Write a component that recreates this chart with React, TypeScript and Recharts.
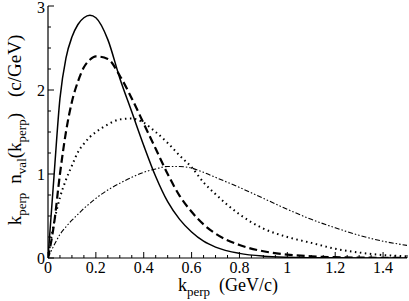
import React from 'react';
import { LineChart, Line, XAxis, YAxis } from 'recharts';

// k_perp grid (GeV/c) and the four curves
const kPerp = [0, 0.025, 0.05, 0.075, 0.1, 0.125, 0.15, 0.175, 0.2, 0.25, 0.3, 0.35, 0.4, 0.45, 0.5, 0.55, 0.6, 0.65, 0.7, 0.8, 0.9, 1.0, 1.1, 1.2, 1.3, 1.4, 1.5];
const solidCurve = [0, 0.97, 1.9, 2.38, 2.63, 2.78, 2.86, 2.89, 2.86, 2.6, 2.14, 1.74, 1.34, 0.97, 0.67, 0.46, 0.31, 0.2, 0.13, 0.055, 0.022, 0.009, 0.004, 0.002, 0.001, 0, 0];
const dashedCurve = [0, 0.4, 1.0, 1.5, 1.86, 2.1, 2.27, 2.36, 2.4, 2.37, 2.17, 1.9, 1.6, 1.3, 1.0, 0.74, 0.55, 0.4, 0.29, 0.155, 0.08, 0.04, 0.02, 0.01, 0.005, 0.002, 0];
const dottedCurve = [0, 0.42, 0.72, 0.93, 1.1, 1.26, 1.36, 1.44, 1.5, 1.59, 1.65, 1.66, 1.61, 1.5, 1.37, 1.22, 1.08, 0.9, 0.76, 0.52, 0.35, 0.25, 0.18, 0.11, 0.065, 0.035, 0.02];
const dashDotCurve = [0, 0.15, 0.28, 0.37, 0.45, 0.52, 0.59, 0.65, 0.71, 0.81, 0.89, 0.96, 1.02, 1.06, 1.09, 1.09, 1.07, 1.02, 0.96, 0.84, 0.71, 0.58, 0.46, 0.36, 0.27, 0.2, 0.15];

const xTicks = [0, 0.05, 0.1, 0.15, 0.2, 0.25, 0.3, 0.35, 0.4, 0.45, 0.5, 0.55, 0.6, 0.65, 0.7, 0.75, 0.8, 0.85, 0.9, 0.95, 1.0, 1.05, 1.1, 1.15, 1.2, 1.25, 1.3, 1.35, 1.4, 1.45, 1.5];
const yTicks = [0, 0.25, 0.5, 0.75, 1, 1.25, 1.5, 1.75, 2, 2.25, 2.5, 2.75, 3];

const data = kPerp.map((k, i) => ({
  k,
  solid: solidCurve[i],
  dashed: dashedCurve[i],
  dotted: dottedCurve[i],
  dashDot: dashDotCurve[i],
}));

const FONT = 'Times New Roman';
const MAJOR = 6;
const MINOR = 3;

const isMultiple = (v: number, step: number) => Math.abs(v / step - Math.round(v / step)) < 1e-6;
const fmt = (v: number) => String(Number(v.toFixed(1)));

// ticks point into the plot; only the bottom and left ones carry labels
const makeTick = (side: 'bottom' | 'top' | 'left' | 'right') => (props: any) => {
  const { x, y, payload } = props;
  const v = payload.value as number;
  const major = side === 'bottom' || side === 'top' ? isMultiple(v, 0.2) : isMultiple(v, 1);
  const len = major ? MAJOR : MINOR;
  if (side === 'bottom') {
    return (
      <g>
        <line x1={x} y1={y} x2={x} y2={y - len} stroke="#000" strokeWidth={1} />
        {major && v < 1.5 && (
          <text x={x} y={y + 15} textAnchor="middle" fontFamily={FONT} fontSize={16} fill="#000">{fmt(v)}</text>
        )}
      </g>
    );
  }
  if (side === 'top') {
    return <line x1={x} y1={y} x2={x} y2={y + len} stroke="#000" strokeWidth={1} />;
  }
  if (side === 'left') {
    return (
      <g>
        <line x1={x} y1={y} x2={x + len} y2={y} stroke="#000" strokeWidth={1} />
        {major && (
          <text x={x - 3} y={Math.max(y + 6, 13)} textAnchor="end" fontFamily={FONT} fontSize={16} fill="#000">{fmt(v)}</text>
        )}
      </g>
    );
  }
  return <line x1={x} y1={y} x2={x - len} y2={y} stroke="#000" strokeWidth={1} />;
};

const XTitle = () => (
  <text x={178} y={291} fontFamily={FONT} fontSize={18} fill="#000">
    k<tspan dy={5} fontSize={13}>perp</tspan>
    <tspan dy={-5} dx={9}>(GeV/c)</tspan>
  </text>
);

const YTitle = () => (
  <text x={21} y={130} transform="rotate(-90, 21, 130)" textAnchor="middle" fontFamily={FONT} fontSize={19} fill="#000">
    k<tspan dy={5} fontSize={13}>perp</tspan>
    <tspan dy={-5} dx={9}>n</tspan>
    <tspan dy={5} fontSize={13}>val</tspan>
    <tspan dy={-5}>(k</tspan>
    <tspan dy={5} fontSize={13}>perp</tspan>
    <tspan dy={-5}>)</tspan>
    <tspan dx={16}>(c/GeV)</tspan>
  </text>
);

const App: React.FC = () => (
  <div style={{ position: 'absolute', left: 0, top: 0, width: 409, height: 301, background: '#fff' }}>
    <LineChart width={409} height={301} data={data} margin={{ top: 6, right: 2, bottom: 0, left: 0 }}>
      <XAxis
        dataKey="k"
        type="number"
        domain={[0, 1.5]}
        ticks={xTicks}
        interval={0}
        height={43}
        tickSize={0}
        tickMargin={0}
        tickLine={false}
        axisLine={{ stroke: '#000', strokeWidth: 1.2 }}
        tick={makeTick('bottom')}
        label={{ content: () => <XTitle /> }}
        allowDataOverflow
      />
      <XAxis
        xAxisId="top"
        orientation="top"
        dataKey="k"
        type="number"
        domain={[0, 1.5]}
        ticks={xTicks}
        interval={0}
        height={0}
        tickSize={0}
        tickMargin={0}
        tickLine={false}
        axisLine={{ stroke: '#000', strokeWidth: 1.2 }}
        tick={makeTick('top')}
        allowDataOverflow
      />
      <YAxis
        type="number"
        domain={[0, 3]}
        ticks={yTicks}
        interval={0}
        width={48}
        tickSize={0}
        tickMargin={0}
        tickLine={false}
        axisLine={{ stroke: '#000', strokeWidth: 1.2 }}
        tick={makeTick('left')}
        label={{ content: () => <YTitle /> }}
        allowDataOverflow
      />
      <YAxis
        yAxisId="right"
        orientation="right"
        type="number"
        domain={[0, 3]}
        ticks={yTicks}
        interval={0}
        width={0}
        tickSize={0}
        tickMargin={0}
        tickLine={false}
        axisLine={{ stroke: '#000', strokeWidth: 1.2 }}
        tick={makeTick('right')}
        allowDataOverflow
      />
      <Line dataKey="dashDot" type="monotone" stroke="#000" strokeWidth={1.1} strokeDasharray="5 2 1.5 2 1.5 2" dot={false} isAnimationActive={false} />
      <Line dataKey="dotted" type="monotone" stroke="#000" strokeWidth={2} strokeDasharray="1.5 3.5" dot={false} isAnimationActive={false} />
      <Line dataKey="dashed" type="monotone" stroke="#000" strokeWidth={2.2} strokeDasharray="8 4" dot={false} isAnimationActive={false} />
      <Line dataKey="solid" type="monotone" stroke="#000" strokeWidth={1.5} dot={false} isAnimationActive={false} />
    </LineChart>
  </div>
);

export default App;
